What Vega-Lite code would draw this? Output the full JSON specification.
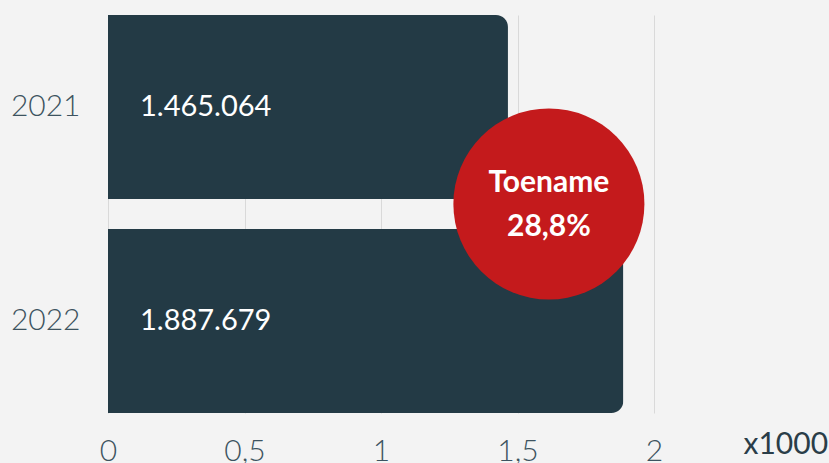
{
  "$schema": "https://vega.github.io/schema/vega-lite/v6.json",
  "width": 546,
  "height": 398,
  "autosize": {"type": "none"},
  "padding": {"left": 108, "top": 15, "right": 175, "bottom": 50},
  "background": "#f3f3f3",
  "config": {
    "view": {"stroke": null},
    "font": "Lato",
    "locale": {"number": {"decimal": ",", "thousands": ".", "grouping": [3], "currency": ["€", ""]}}
  },
  "datasets": {
    "bars": [
      {"jaar": "2021", "aantal": 1465064},
      {"jaar": "2022", "aantal": 1887679}
    ],
    "badge": [
      {"jaar": "2021", "aantal": 1615000, "regel1": "Toename", "regel2": "28,8%"}
    ]
  },
  "layer": [
    {
      "data": {"name": "bars"},
      "mark": {"type": "bar", "color": "#233a45", "cornerRadiusEnd": 12},
      "encoding": {
        "y": {
          "field": "jaar", "type": "nominal",
          "scale": {"paddingInner": 0.14, "paddingOuter": 0},
          "axis": {"title": null, "domain": false, "ticks": false, "labelPadding": 28, "labelFontSize": 30, "labelFontWeight": 300, "labelColor": "#3d5360", "labelFont": "Lato"}
        },
        "x": {
          "field": "aantal", "type": "quantitative",
          "scale": {"domain": [0, 2000000], "nice": false},
          "axis": {
            "values": [0, 500000, 1000000, 1500000, 2000000],
            "labelExpr": "replace(toString(datum.value/1000000), '.', ',')",
            "domain": false, "ticks": false,
            "grid": true, "gridColor": "#d9d9d9", "gridWidth": 1,
            "labelFontSize": 30, "labelFontWeight": 300, "labelColor": "#3d5360", "labelPadding": 23,
            "labelFlush": false,
            "title": "x1000", "titleX": 635, "titleY": 40, "titleAlign": "left", "titleBaseline": "alphabetic",
            "titleFontSize": 30, "titleFontWeight": "normal", "titleColor": "#2a3d48", "titleFont": "Lato"
          }
        }
      }
    },
    {
      "data": {"name": "bars"},
      "mark": {"type": "text", "align": "left", "baseline": "middle", "dx": 32, "fontSize": 29, "color": "#ffffff", "font": "Lato"},
      "encoding": {
        "y": {"field": "jaar", "type": "nominal"},
        "x": {"datum": 0},
        "text": {"field": "aantal", "type": "quantitative", "format": ","}
      }
    },
    {
      "data": {"name": "badge"},
      "mark": {"type": "point", "shape": "circle", "filled": true, "opacity": 1, "color": "#c41a1c", "size": 36500, "yOffset": 97},
      "encoding": {
        "y": {"field": "jaar", "type": "nominal"},
        "x": {"field": "aantal", "type": "quantitative"}
      }
    },
    {
      "data": {"name": "badge"},
      "mark": {"type": "text", "align": "center", "baseline": "middle", "yOffset": 76, "fontSize": 30, "fontWeight": "bold", "color": "#ffffff", "font": "Lato"},
      "encoding": {
        "y": {"field": "jaar", "type": "nominal"},
        "x": {"field": "aantal", "type": "quantitative"},
        "text": {"field": "regel1"}
      }
    },
    {
      "data": {"name": "badge"},
      "mark": {"type": "text", "align": "center", "baseline": "middle", "yOffset": 120, "fontSize": 30, "fontWeight": "bold", "color": "#ffffff", "font": "Lato"},
      "encoding": {
        "y": {"field": "jaar", "type": "nominal"},
        "x": {"field": "aantal", "type": "quantitative"},
        "text": {"field": "regel2"}
      }
    }
  ]
}
